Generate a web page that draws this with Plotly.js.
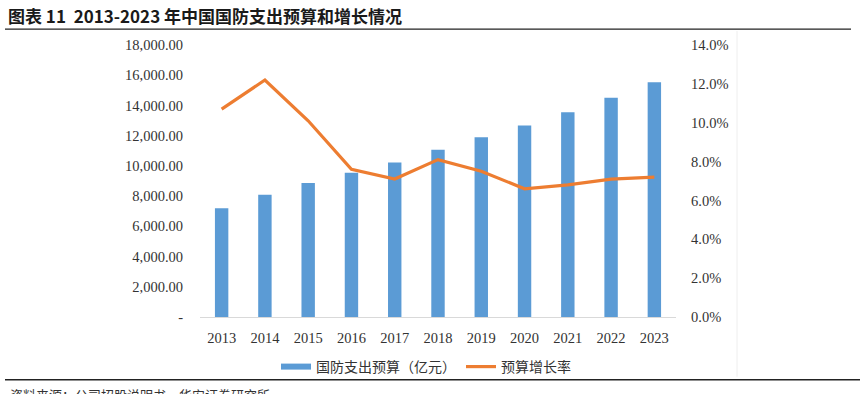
<!DOCTYPE html>
<html>
<head>
<meta charset="utf-8">
<script src="https://cdn.plot.ly/plotly-3.0.1.min.js"></script>
<style>
html,body{margin:0;padding:0;background:#fff;overflow:hidden;}
#chart{width:863px;height:394px;}
</style>
</head>
<body>
<div id="chart"></div>
<script>
const years = ['2013','2014','2015','2016','2017','2018','2019','2020','2021','2022','2023'];
const budget = [7202, 8082, 8869, 9544, 10226, 11069, 11899, 12680, 13553, 14505, 15537];
const growth = [0.107, 0.122, 0.101, 0.076, 0.071, 0.081, 0.075, 0.066, 0.068, 0.071, 0.072];
const leftTickVals = [0,2000,4000,6000,8000,10000,12000,14000,16000,18000];
const leftTickText = ['-','2,000.00','4,000.00','6,000.00','8,000.00','10,000.00','12,000.00','14,000.00','16,000.00','18,000.00'];
const barName = '国防支出预算（亿元）';
const lineName = '预算增长率';
const titleText = '图表 11  2013-2023 年中国国防支出预算和增长情况';
const sourceText = '资料来源：公司招股说明书，华安证券研究所';

const W = 863, H = 394;
const L = 200, R = 676, T = 45, B = 318;
const px = x => (x - L) / (R - L);
const py = y => (B - y) / (B - T);

const serif = 'Liberation Serif, "Times New Roman", serif';
const BLUE = '#5B9BD5', ORANGE = '#ED7D31';

const traces = [
  {
    type: 'bar', x: years, y: budget, name: barName, showlegend: false,
    marker: {color: BLUE}, width: 0.31, yaxis: 'y'
  },
  // legend key for the bars (wide flat swatch as in the reference)
  {
    type: 'scatter', mode: 'lines', x: [null], y: [null], name: barName,
    line: {color: BLUE, width: 6}, yaxis: 'y', hoverinfo: 'skip'
  },
  {
    type: 'scatter', mode: 'lines', x: years, y: growth, name: lineName,
    line: {color: ORANGE, width: 3.2}, yaxis: 'y2'
  }
];

const layout = {
  width: W, height: H,
  margin: {l: L, r: W - R, t: T, b: H - B, pad: 0},
  paper_bgcolor: '#fff', plot_bgcolor: '#fff',
  showlegend: true,
  title: {
    text: '<b>' + titleText + '</b>',
    xref: 'container', yref: 'container',
    x: 8 / W, xanchor: 'left', y: 1 - 17 / H, yanchor: 'middle',
    font: {family: '"Noto Sans CJK SC", sans-serif', size: 17, color: '#1a1a1a'}
  },
  xaxis: {
    type: 'category', showgrid: false, zeroline: false,
    showline: true, linecolor: '#d9d9d9', linewidth: 1,
    ticks: '', ticklabelstandoff: 8,
    tickfont: {family: serif, size: 14.5, color: '#333'}
  },
  yaxis: {
    range: [0, 18000], tickvals: leftTickVals, ticktext: leftTickText,
    showgrid: false, zeroline: false, showline: false, ticks: '',
    ticklabelstandoff: 16,
    tickfont: {family: serif, size: 14.5, color: '#333'}
  },
  yaxis2: {
    overlaying: 'y', side: 'right', range: [0, 0.14], dtick: 0.02,
    tickformat: '.1%', showgrid: false, zeroline: false, showline: false, ticks: '',
    ticklabelstandoff: 14,
    tickfont: {family: serif, size: 14.5, color: '#333'}
  },
  legend: {
    orientation: 'h', x: px(426), xanchor: 'center', y: py(367), yanchor: 'middle',
    font: {family: '"Noto Sans CJK SC", sans-serif', size: 14, color: '#333'},
    itemwidth: 30, tracegroupgap: 0, bgcolor: 'rgba(0,0,0,0)'
  },
  shapes: [
    {type: 'line', xref: 'paper', yref: 'paper', x0: px(5), x1: px(851), y0: py(29), y1: py(29),
     line: {color: '#222', width: 1.3}},
    {type: 'line', xref: 'paper', yref: 'paper', x0: px(5), x1: px(860), y0: py(381), y1: py(381),
     line: {color: '#222', width: 1.3}},
    {type: 'line', xref: 'paper', yref: 'paper', x0: px(737), x1: px(737), y0: py(31), y1: py(378),
     line: {color: '#eeeeee', width: 1}}
  ],
  annotations: [
    {text: sourceText, xref: 'paper', yref: 'paper', x: px(8), xanchor: 'left',
     y: py(396), yanchor: 'middle', showarrow: false,
     font: {family: '"Noto Sans CJK SC", sans-serif', size: 13, color: '#333'}}
  ]
};

Plotly.newPlot('chart', traces, layout, {displayModeBar: false, staticPlot: true});
</script>
</body>
</html>
